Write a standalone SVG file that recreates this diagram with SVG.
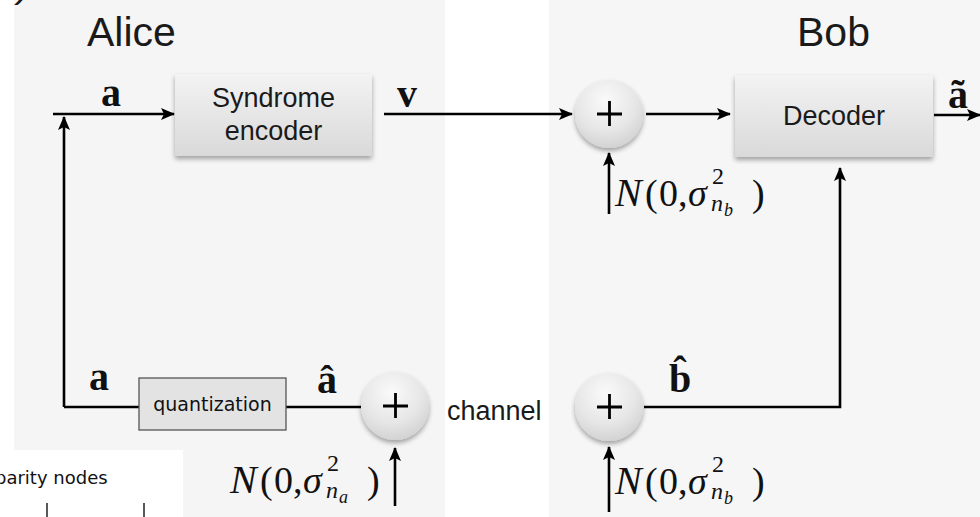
<svg xmlns="http://www.w3.org/2000/svg" width="980" height="517" viewBox="0 0 980 517">
<defs>
<style>
.sans{font-family:"Liberation Sans","Helvetica Neue",Arial,sans-serif;fill:#1a1a1a}
.title{font-size:41px}
.box-text{font-size:27px;text-anchor:middle}
.math{font-family:"Liberation Serif","DejaVu Serif",serif;fill:#111}
.bold{font-weight:bold;font-size:40px}
.it{font-style:italic}
.m-big{font-size:38px}
.m-sup{font-size:24px}
.m-sub2{font-size:18px}
.line{fill:none;stroke:#000;stroke-width:2.6}
.arr{fill:none;stroke:#000;stroke-width:2.6;marker-end:url(#ah)}
.plus{stroke:#000;stroke-width:2.8;fill:none}
</style>
<marker id="ah" markerUnits="userSpaceOnUse" markerWidth="14" markerHeight="12" viewBox="0 0 14 12" refX="13" refY="6" orient="auto">
<path d="M0,0 L14,6 L0,12 L3,6 z" fill="#000"/>
</marker>
<linearGradient id="boxg" x1="0" y1="0" x2="0" y2="1">
<stop offset="0" stop-color="#f3f3f3"/>
<stop offset="1" stop-color="#d9d9d9"/>
</linearGradient>
<radialGradient id="circg" cx="0.45" cy="0.3" r="0.75">
<stop offset="0" stop-color="#fafafa"/>
<stop offset="0.6" stop-color="#e6e6e6"/>
<stop offset="1" stop-color="#cfcfcf"/>
</radialGradient>
<filter id="sh" x="-20%" y="-20%" width="140%" height="150%">
<feGaussianBlur in="SourceAlpha" stdDeviation="2.5"/>
<feOffset dy="3" result="b"/>
<feComponentTransfer><feFuncA type="linear" slope="0.35"/></feComponentTransfer>
<feMerge><feMergeNode/><feMergeNode in="SourceGraphic"/></feMerge>
</filter>
</defs>

<rect x="0" y="0" width="980" height="517" fill="#ffffff"/>
<g id="alice-panel">
<rect x="14" y="0" width="431" height="517" fill="#f5f5f5"/>
<text class="sans title" x="87" y="46">Alice</text>
</g>
<g id="bob-panel">
<rect x="549" y="0" width="431" height="517" fill="#f6f6f6"/>
<text class="sans title" x="797" y="46">Bob</text>
</g>
<text class="sans" x="18" y="-3" font-size="40" font-style="italic">)</text>

<g id="parity-inset">
<rect x="0" y="450" width="183" height="67" fill="#ffffff"/>
<text x="-5" y="484" font-family="'DejaVu Sans',Verdana,sans-serif" font-size="18" fill="#111">parity nodes</text>
<line x1="47" y1="503" x2="47" y2="517" stroke="#222" stroke-width="1.5"/>
<line x1="144" y1="503" x2="144" y2="517" stroke="#222" stroke-width="1.5"/>
</g>

<g id="connectors">
<path class="arr" d="M53,114 H174"/>
<path class="arr" d="M64,407 V117"/>
<path class="line" d="M64,407 H139"/>
<path class="line" d="M286,407 H361"/>
<path class="arr" d="M384,114 H572"/>
<path class="arr" d="M646,114 H730"/>
<path class="arr" d="M934,115 H980"/>
<path class="arr" d="M609,214 V153"/>
<path class="arr" d="M644,407 H840 V168"/>
<path class="arr" d="M609,512 V447"/>
<path class="arr" d="M395,506 V448"/>
</g>

<g id="syndrome-encoder">
<rect x="175" y="74" width="197" height="82" fill="url(#boxg)" filter="url(#sh)"/>
<text class="sans box-text" x="273.5" y="107">Syndrome</text>
<text class="sans box-text" x="273.5" y="140">encoder</text>
</g>

<g id="decoder">
<rect x="735" y="75" width="198" height="82" fill="url(#boxg)" filter="url(#sh)"/>
<text class="sans box-text" x="834" y="125">Decoder</text>
</g>

<g id="quantization">
<rect x="139" y="378" width="147" height="52" fill="#e3e3e3" stroke="#555" stroke-width="1.3"/>
<text x="212.5" y="411" font-family="'DejaVu Sans',Verdana,sans-serif" font-size="19" fill="#111" text-anchor="middle">quantization</text>
</g>

<g id="sum-top">
<circle cx="609" cy="114" r="34" fill="url(#circg)" filter="url(#sh)"/>
<path class="plus" d="M597,114 H622 M609.5,101 V126"/>
</g>

<g id="sum-alice">
<circle cx="395" cy="406" r="34" fill="url(#circg)" filter="url(#sh)"/>
<path class="plus" d="M383,406 H408 M395.5,393 V418"/>
</g>

<g id="sum-bottom">
<circle cx="609" cy="407" r="34" fill="url(#circg)" filter="url(#sh)"/>
<path class="plus" d="M597,407 H622 M609.5,394 V419"/>
</g>

<text class="sans" x="447" y="420" font-size="27">channel</text>

<g id="labels">
<text class="math bold" x="101" y="106">a</text>
<text class="math bold" x="397" y="107">v</text>
<text class="math bold" x="948" y="108">ã</text>
<text class="math bold" x="89" y="390">a</text>
<text class="math bold" x="317" y="393">â</text>
<text class="math bold" x="669" y="392">b̂</text>
</g>

<g id="noise-alice" class="math">
<text x="230" y="493" font-size="40" class="it">N</text>
<text x="260" y="493" class="m-big">(</text>
<text x="274" y="493" class="m-big">0</text>
<text x="293" y="493" class="m-big">,</text>
<text x="303" y="493" class="m-big it">σ</text>
<text x="327" y="471" class="m-sup">2</text>
<text x="326" y="498" class="m-sup it">n</text>
<text x="339" y="503" class="m-sub2 it">a</text>
<text x="367" y="493" class="m-big">)</text>
</g>

<g id="noise-bob-top" class="math">
<text x="615" y="206" font-size="40" class="it">N</text>
<text x="645" y="206" class="m-big">(</text>
<text x="659" y="206" class="m-big">0</text>
<text x="678" y="206" class="m-big">,</text>
<text x="688" y="206" class="m-big it">σ</text>
<text x="712" y="184" class="m-sup">2</text>
<text x="711" y="211" class="m-sup it">n</text>
<text x="724" y="216" class="m-sub2 it">b</text>
<text x="752" y="206" class="m-big">)</text>
</g>

<g id="noise-bob-bottom" class="math">
<text x="615" y="494" font-size="40" class="it">N</text>
<text x="645" y="494" class="m-big">(</text>
<text x="659" y="494" class="m-big">0</text>
<text x="678" y="494" class="m-big">,</text>
<text x="688" y="494" class="m-big it">σ</text>
<text x="712" y="472" class="m-sup">2</text>
<text x="711" y="499" class="m-sup it">n</text>
<text x="724" y="504" class="m-sub2 it">b</text>
<text x="752" y="494" class="m-big">)</text>
</g>
</svg>
